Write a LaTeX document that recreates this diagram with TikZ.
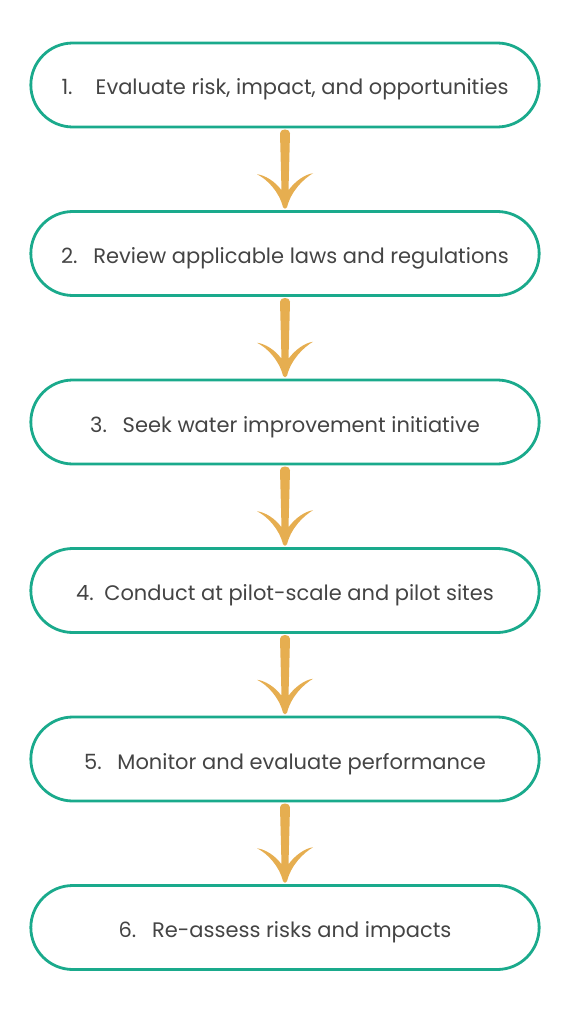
\documentclass[tikz,border=0pt]{standalone}
\usepackage{fontspec}
\setmainfont{Poppins}
\usetikzlibrary{shapes.misc,calc}
\definecolor{stepteal}{RGB}{26,170,140}
\definecolor{flowgold}{RGB}{230,174,80}
\definecolor{textgray}{RGB}{68,68,68}
\begin{document}
\begin{tikzpicture}[x=1pt,y=1pt,line join=round,line cap=round,
    stepbox/.style={rounded rectangle,draw=stepteal,line width=2.8pt,minimum width=515pt,minimum height=84pt,text=textgray,font=\fontsize{21}{25}\selectfont},
    flowarrow/.pic={\fill[flowgold] (-5,36) .. controls (-5,41) and (5,41) .. (5,36) -- (3.5,-21)
        .. controls (10,-12) and (20,-5) .. (28,-4) .. controls (18,-10) and (6,-22) .. (2,-38)
        .. controls (1,-40) and (-1,-40) .. (-2,-38) .. controls (-6,-22) and (-18,-10) .. (-28,-5)
        .. controls (-20,-6) and (-10,-12) .. (-3.5,-21) -- cycle;}]
  \useasboundingbox (0,0) rectangle (573,-1024);
  \foreach \i/\y/\t in {1/85/{1.\hspace{1.1em}Evaluate risk, impact, and opportunities},
      2/253.5/{2.\hspace{.75em}Review applicable laws and regulations},
      3/422/{3.\hspace{.75em}Seek water improvement initiative},
      4/590.5/{4.\hspace{.5em}Conduct at pilot-scale and pilot sites},
      5/759/{5.\hspace{.75em}Monitor and evaluate performance},
      6/927.5/{6.\hspace{.75em}Re-assess risks and impacts}}
    \node[stepbox] (b\i) at (285,-\y) {\raisebox{-10pt}[0pt][0pt]{\t}};
  \foreach \i [evaluate=\i as \j using int(\i+1)] in {1,...,5}
    \pic at ($(b\i.south)!0.5!(b\j.north)$) {flowarrow};
\end{tikzpicture}
\end{document}
